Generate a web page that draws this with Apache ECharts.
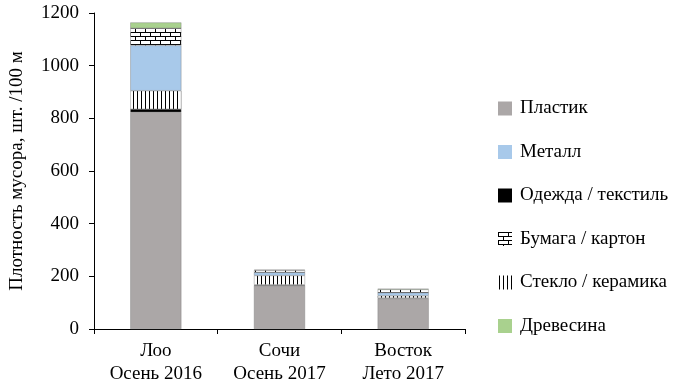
<!DOCTYPE html>
<html><head><meta charset="utf-8">
<script src="https://cdn.jsdelivr.net/npm/echarts@6/dist/echarts.min.js"></script>
<style>html,body{margin:0;padding:0;background:#fff}#c{width:679px;height:389px}</style>
</head><body><div id="c"></div>
<script>
var categories = ['Лоо\nОсень 2016', 'Сочи\nОсень 2017', 'Восток\nЛето 2017'];
var plastic = [823, 165, 116];
var textile = [12, 3, 2];
var glass = [70, 35, 8];
var metal = [172, 12, 12];
var paper = [65, 8, 12];
var wood = [22, 2, 3];
var yTicks = [0, 200, 400, 600, 800, 1000, 1200];
var legendOrder = ['Пластик', 'Металл', 'Одежда / текстиль', 'Бумага / картон', 'Стекло / керамика', 'Древесина'];

function glassPattern() {
  var c = document.createElement('canvas'); c.width = 4; c.height = 4;
  var g = c.getContext('2d');
  g.fillStyle = '#fff'; g.fillRect(0, 0, 4, 4);
  g.fillStyle = '#000'; g.fillRect(1, 0, 1, 4);
  return c;
}
function brickPattern() {
  var c = document.createElement('canvas'); c.width = 10; c.height = 8;
  var g = c.getContext('2d');
  g.fillStyle = '#fff'; g.fillRect(0, 0, 10, 8);
  g.fillStyle = '#000';
  g.fillRect(0, 0, 10, 1); g.fillRect(0, 4, 10, 1);
  g.fillRect(0, 0, 1, 4); g.fillRect(5, 4, 1, 4);
  return c;
}
var font = '"Liberation Serif", "Times New Roman", serif';
var chart = echarts.init(document.getElementById('c'));
function s(name, data, color) {
  return { name: name, type: 'bar', stack: 'all', data: data, barWidth: 51,
    itemStyle: { color: color, borderColor: '#777', borderWidth: 0.4 }, emphasis: { disabled: true } };
}
chart.setOption({
  animation: false,
  grid: { left: 89, right: 214, top: 13, bottom: 60 },
  legend: {
    orient: 'vertical', left: 493, top: 94, itemGap: 24.5, itemWidth: 14, itemHeight: 14,
    data: legendOrder, icon: 'rect',
    itemStyle: { borderWidth: 0 },
    textStyle: { fontFamily: font, fontSize: 19, lineHeight: 19, color: '#000', padding: [0, 0, 0, 3] }
  },
  xAxis: {
    type: 'category', data: categories,
    axisLine: { lineStyle: { color: '#000', width: 1 } },
    axisTick: { show: true, alignWithLabel: false, length: 5, lineStyle: { color: '#000' } },
    axisLabel: { fontFamily: font, fontSize: 19, color: '#000', lineHeight: 23, margin: 11 }
  },
  yAxis: {
    type: 'value', min: yTicks[0], max: yTicks[yTicks.length - 1], interval: 200,
    name: 'Плотность мусора, шт. /100 м', nameLocation: 'middle', nameGap: 67,
    nameTextStyle: { fontFamily: font, fontSize: 19, color: '#000' },
    axisLine: { show: true, lineStyle: { color: '#000', width: 1 } },
    axisTick: { show: true, length: 5, lineStyle: { color: '#000' } },
    splitLine: { show: false },
    axisLabel: { fontFamily: font, fontSize: 19, color: '#000', margin: 15,
      formatter: function (v) { return String(v); } }
  },
  series: [
    s('Пластик', plastic, '#aba7a7'),
    s('Одежда / текстиль', textile, '#000'),
    s('Стекло / керамика', glass, { image: glassPattern(), repeat: 'repeat' }),
    s('Металл', metal, '#a8c9ea'),
    s('Бумага / картон', paper, { image: brickPattern(), repeat: 'repeat' }),
    s('Древесина', wood, '#a9d18e')
  ]
});
</script></body></html>
